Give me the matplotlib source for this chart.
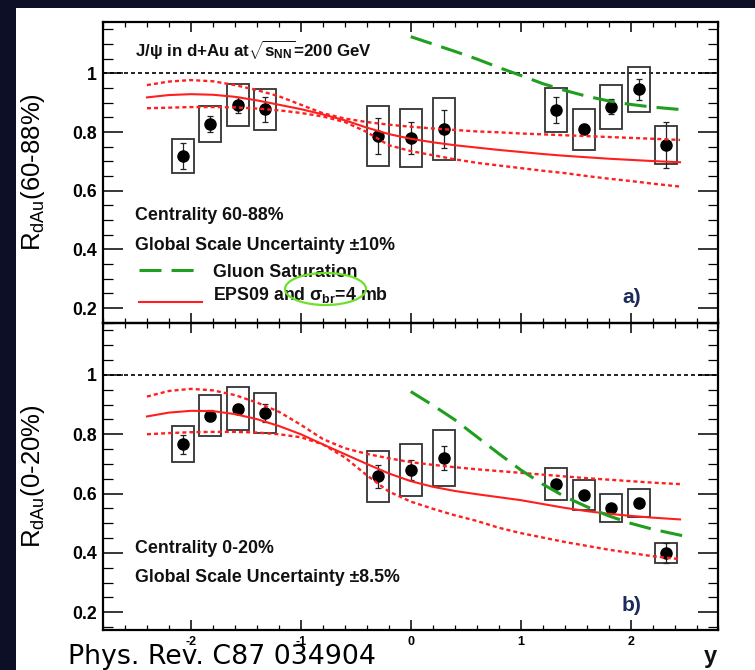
import matplotlib
matplotlib.use("Agg")
import matplotlib.pyplot as plt
from matplotlib.patches import Rectangle, Ellipse
from matplotlib.lines import Line2D
from matplotlib.ticker import MultipleLocator

plt.rcParams['font.family'] = ['Liberation Sans', 'DejaVu Sans']
plt.rcParams['mathtext.fontset'] = 'custom'
plt.rcParams['mathtext.rm'] = 'Liberation Sans'
plt.rcParams['mathtext.it'] = 'Liberation Sans:italic'
plt.rcParams['mathtext.bf'] = 'Liberation Sans:bold'
plt.rcParams['mathtext.default'] = 'regular'

# ---------------- data ----------------
rapidity = [-2.075, -1.825, -1.575, -1.325, -0.3, 0.0, 0.3, 1.325, 1.575, 1.825, 2.075, 2.325]

rdau_periph = [0.718, 0.827, 0.892, 0.877, 0.787, 0.780, 0.810, 0.875, 0.810, 0.886, 0.945, 0.756]
stat_periph = [0.044, 0.027, 0.028, 0.043, 0.062, 0.055, 0.065, 0.043, 0.018, 0.025, 0.037, 0.079]
sys_periph = [0.057, 0.062, 0.070, 0.070, 0.103, 0.100, 0.105, 0.074, 0.070, 0.075, 0.077, 0.064]

rdau_central = [0.767, 0.863, 0.886, 0.871, 0.658, 0.680, 0.720, 0.632, 0.596, 0.551, 0.568, 0.400]
stat_central = [0.032, 0.018, 0.015, 0.031, 0.038, 0.034, 0.041, 0.012, 0.010, 0.010, 0.010, 0.035]
sys_central = [0.060, 0.068, 0.072, 0.067, 0.085, 0.088, 0.093, 0.055, 0.050, 0.046, 0.046, 0.034]

eps_y = [-2.4, -2.2, -2.0, -1.8, -1.6, -1.4, -1.2, -1.0, -0.8, -0.6, -0.4, -0.2, 0.0,
         0.2, 0.4, 0.6, 0.8, 1.0, 1.2, 1.4, 1.6, 1.8, 2.0, 2.2, 2.45]
eps_periph_mid = [0.918, 0.926, 0.929, 0.927, 0.920, 0.908, 0.893, 0.878, 0.860, 0.840, 0.815, 0.793, 0.777,
                  0.765, 0.755, 0.747, 0.739, 0.732, 0.725, 0.719, 0.714, 0.709, 0.705, 0.701, 0.697]
eps_periph_hi = [0.960, 0.972, 0.977, 0.973, 0.960, 0.943, 0.922, 0.893, 0.864, 0.846, 0.834, 0.825, 0.818,
                 0.812, 0.807, 0.802, 0.799, 0.795, 0.792, 0.789, 0.786, 0.783, 0.780, 0.777, 0.773]
eps_periph_lo = [0.881, 0.883, 0.885, 0.885, 0.884, 0.880, 0.874, 0.865, 0.853, 0.834, 0.800, 0.755, 0.735,
                 0.721, 0.707, 0.695, 0.686, 0.677, 0.668, 0.660, 0.650, 0.641, 0.633, 0.624, 0.614]
eps_central_mid = [0.860, 0.873, 0.879, 0.878, 0.868, 0.851, 0.828, 0.800, 0.766, 0.733, 0.700, 0.668, 0.642,
                   0.623, 0.609, 0.598, 0.588, 0.578, 0.565, 0.552, 0.541, 0.532, 0.525, 0.519, 0.513]
eps_central_hi = [0.927, 0.946, 0.953, 0.948, 0.932, 0.907, 0.876, 0.832, 0.784, 0.753, 0.734, 0.719, 0.706,
                  0.697, 0.689, 0.682, 0.676, 0.670, 0.664, 0.658, 0.652, 0.647, 0.642, 0.637, 0.632]
eps_central_lo = [0.800, 0.804, 0.807, 0.808, 0.808, 0.806, 0.800, 0.790, 0.766, 0.722, 0.662, 0.607, 0.573,
                  0.549, 0.527, 0.508, 0.485, 0.467, 0.452, 0.437, 0.424, 0.411, 0.400, 0.389, 0.379]

cgc_y = [0.0, 0.2, 0.4, 0.6, 0.8, 1.0, 1.2, 1.4, 1.6, 1.8, 2.0, 2.2, 2.5]
cgc_periph = [1.125, 1.100, 1.075, 1.049, 1.020, 0.993, 0.965, 0.942, 0.922, 0.906, 0.894, 0.885, 0.875]
cgc_central = [0.944, 0.898, 0.849, 0.792, 0.735, 0.680, 0.632, 0.590, 0.556, 0.525, 0.500, 0.480, 0.456]

xtick_vals = [-2, -1, 0, 1, 2]
xtick_labels = ['-2', '-1', '0', '1', '2']
ytick_vals = [0.2, 0.4, 0.6, 0.8, 1.0]
ytick_labels = ['0.2', '0.4', '0.6', '0.8', '1']

# ---------------- style ----------------
W, H = 755, 670
NAVY = '#0c0f26'
RED = '#ff1f1f'
GREEN = '#1f9e1f'
BOX_HW = 0.1


def fx(px):
    return px / W


def fy(py):
    return 1 - py / H


fig = plt.figure(figsize=(W / 100, H / 100), dpi=100)
fig.patch.set_facecolor(NAVY)
fig.add_artist(Rectangle((fx(16), 0), (W - 16) / W, (H - 8) / H, transform=fig.transFigure,
                         facecolor='white', edgecolor='none', zorder=-5))

ax_top = fig.add_axes([fx(103), fy(322.7), 615.5 / W, 300.7 / H])
ax_bot = fig.add_axes([fx(103), fy(629.5), 615.5 / W, 306.8 / H])


def panel(ax, ylim, vals, stat, sysu, mid, hi, lo, cgc, ylab):
    ax.set_facecolor('none')
    ax.set_xlim(-2.8, 2.8)
    ax.set_ylim(*ylim)
    for s in ax.spines.values():
        s.set_linewidth(1.6)
    ax.set_xticks(xtick_vals, labels=xtick_labels)
    ax.set_yticks(ytick_vals, labels=ytick_labels)
    ax.xaxis.set_minor_locator(MultipleLocator(0.2))
    ax.yaxis.set_minor_locator(MultipleLocator(0.05))
    ax.tick_params(which='both', direction='in', top=True, right=True)
    ax.tick_params(axis='y', which='major', length=14.4, width=1.1, pad=4.3, labelsize=12.7)
    ax.tick_params(axis='y', which='minor', length=7.2, width=0.9)
    ax.tick_params(axis='x', which='major', length=7.2, width=1.1, pad=4.5, labelsize=9)
    ax.tick_params(axis='x', which='minor', length=3.6, width=0.9)
    for lab in ax.get_yticklabels() + ax.get_xticklabels():
        lab.set_fontweight('bold')

    ax.axhline(1.0, color='black', lw=1.2, linestyle=(0, (2.4, 1.8)), zorder=1)

    for x, v, s in zip(rapidity, vals, sysu):
        ax.add_patch(Rectangle((x - BOX_HW, v - s), 2 * BOX_HW, 2 * s, fill=False,
                               edgecolor='#333333', lw=1.3, zorder=2))
    ax.errorbar(rapidity, vals, yerr=stat, fmt='none', ecolor='#222222', elinewidth=0.9,
                capsize=2.5, capthick=0.9, zorder=3)
    ax.plot(rapidity, vals, 'o', color='black', ms=8, zorder=4)

    ax.plot(eps_y, mid, color=RED, lw=1.5, zorder=5)
    ax.plot(eps_y, hi, color=RED, lw=1.7, linestyle=(0, (1.7, 1.3)), zorder=5)
    ax.plot(eps_y, lo, color=RED, lw=1.7, linestyle=(0, (1.7, 1.3)), zorder=5)
    ax.plot(cgc_y, cgc, color=GREEN, lw=2.2, linestyle=(0, (7.2, 3.3)), zorder=5)

    ax.text(-0.113, 0.5, ylab, transform=ax.transAxes, rotation=90, ha='center', va='center',
            fontsize=18.5)


panel(ax_top, (0.15, 1.175), rdau_periph, stat_periph, sys_periph,
      eps_periph_mid, eps_periph_hi, eps_periph_lo, cgc_periph, r'R$_{dAu}$(60-88%)')
panel(ax_bot, (0.142, 1.176), rdau_central, stat_central, sys_central,
      eps_central_mid, eps_central_hi, eps_central_lo, cgc_central, r'R$_{dAu}$(0-20%)')
ax_top.tick_params(labelbottom=False)

TXT = dict(fontsize=12.8, fontweight='bold', va='baseline', ha='left', color='#111111')
fig.text(fx(135), fy(56.7), r'J/$\psi$ in d+Au at$\sqrt{s_{NN}}$=200 GeV', fontsize=12.2,
         fontweight='bold', va='baseline', ha='left', color='#111111')
fig.text(fx(135), fy(220), 'Centrality 60-88%', **TXT)
fig.text(fx(135), fy(250), 'Global Scale Uncertainty \u00b110%', **TXT)
fig.text(fx(213), fy(276.7), 'Gluon Saturation', **TXT)
fig.text(fx(213), fy(300), r'EPS09 and $\sigma_{br}$=4 mb', **TXT)
fig.text(fx(135), fy(553.3), 'Centrality 0-20%', **TXT)
fig.text(fx(135), fy(582.3), 'Global Scale Uncertainty \u00b18.5%', **TXT)

fig.add_artist(Line2D([fx(139), fx(202)], [fy(270), fy(270)], transform=fig.transFigure,
                      color=GREEN, lw=2.2, linestyle=(0, (7.2, 3.3))))
fig.add_artist(Line2D([fx(139), fx(202)], [fy(302), fy(302)], transform=fig.transFigure,
                      color=RED, lw=1.5))
fig.add_artist(Ellipse((fx(325.5), fy(289)), 81 / W, 32 / H, transform=fig.transFigure,
                       fill=False, edgecolor='#6ee02a', lw=1.6, zorder=10))

fig.text(fx(622), fy(303), 'a)', fontsize=15, fontweight='bold', color='#1c2a5c', va='baseline')
fig.text(fx(622), fy(611), 'b)', fontsize=15, fontweight='bold', color='#1c2a5c', va='baseline')
fig.text(fx(717), fy(663), 'y', fontsize=17, fontweight='bold', color='#111111', va='baseline', ha='right')
fig.text(fx(68), fy(664), 'Phys. Rev. C87 034904', fontsize=19.3, family='DejaVu Sans',
         color='black', va='baseline', ha='left')

fig.savefig('out.png', dpi=100, facecolor=fig.get_facecolor())
